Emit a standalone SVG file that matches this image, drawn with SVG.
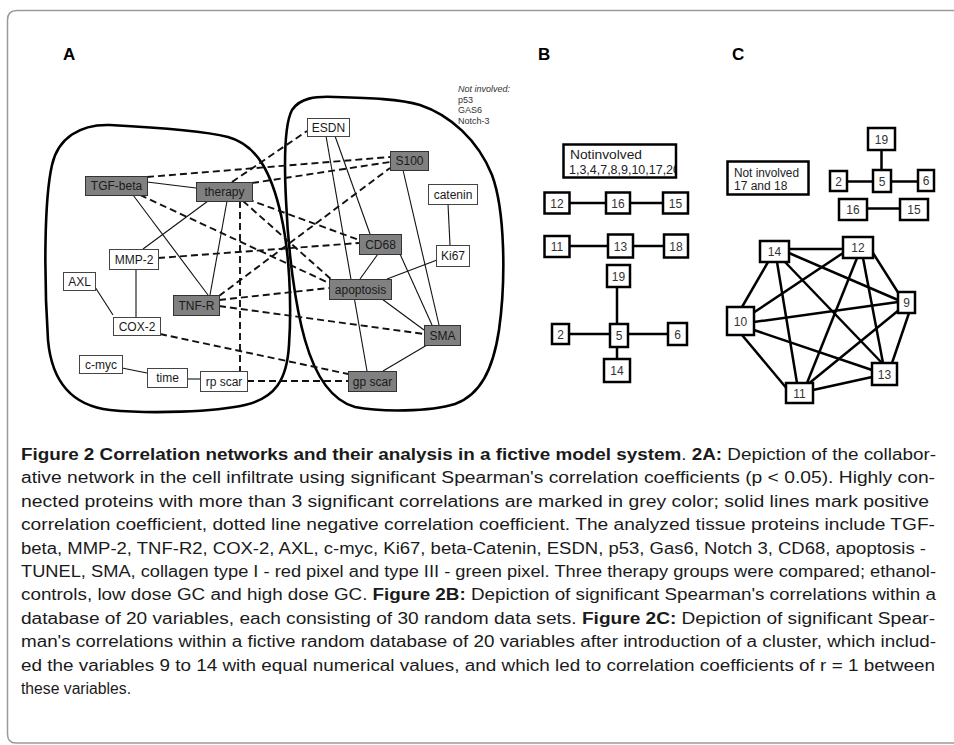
<svg xmlns="http://www.w3.org/2000/svg" width="954" height="745" viewBox="0 0 954 745">
<style>
  .frame{fill:none;stroke:#9a9a9a;stroke-width:1.5}
  .panel{font-family:"Liberation Sans",Arial,sans-serif;font-weight:bold;font-size:17px;fill:#000}
  .blob{fill:none;stroke:#000;stroke-width:2.6}
  .pos{stroke:#111;stroke-width:1.1;fill:none}
  .neg{stroke:#111;stroke-width:1.9;stroke-dasharray:7,4;fill:none}
  .g{fill:#808080;stroke:#333;stroke-width:1}
  .w{fill:#fff;stroke:#444;stroke-width:1}
  .lbl{font-family:"Liberation Sans",Arial,sans-serif;font-size:12px;fill:#1a1a1a;text-anchor:middle}
  .note{font-family:"Liberation Sans",Arial,sans-serif;font-size:9px;fill:#333}
  .bx{fill:#fff;stroke:#000;stroke-width:2.5}
  .be{stroke:#000;stroke-width:2.5;fill:none}
  .num{font-family:"Liberation Sans",Arial,sans-serif;font-size:12px;fill:#333;text-anchor:middle}
  .ni{font-family:"Liberation Sans",Arial,sans-serif;font-size:12px;fill:#222}
  .cap{font-family:"Liberation Sans",Arial,sans-serif;font-size:16px;fill:#1a1a1a}
  .b{font-weight:bold}
</style>
<defs>
  <clipPath id="clipB"><rect x="564.5" y="145.5" width="110.5" height="31"/></clipPath>
</defs>
<rect x="0" y="0" width="954" height="745" fill="#fff"/>
<path class="frame" d="M954,10.5 H17 Q7.5,10.5 7.5,20 V734 Q7.5,743 16,743 H954"/>

<text class="panel" x="63" y="60">A</text>
<text class="panel" x="538" y="60">B</text>
<text class="panel" x="732" y="60">C</text>

<!-- Panel A: clusters -->
<g id="clusters">
  <path class="blob" d="M48,340 C44,280 44,200 52,165 C58,138 80,124 110,125 C150,127 200,130 228,137 C258,145 272,175 281,215 C289,250 292,300 289,345 C287,380 275,398 245,405 C215,412 150,414 110,410 C75,406 52,385 48,340 Z"/>
  <path class="blob" d="M286,200 C284,160 284,125 292,110 C300,98 315,96 335,97 C370,98 400,99 420,105 C450,115 478,140 492,175 C505,210 506,280 499,330 C493,370 480,395 455,404 C430,412 380,412 355,407 C330,400 315,375 305,340 C295,305 288,250 286,200 Z"/>
</g>

<g id="not-involved-A">
  <text class="note" x="458" y="92" font-style="italic">Not involved:</text>
  <text class="note" x="458" y="103">p53</text>
  <text class="note" x="458" y="113">GAS6</text>
  <text class="note" x="458" y="124">Notch-3</text>
</g>

<g id="connectors">
  <!-- Panel A positive -->
  <line class="pos" x1="147" y1="182" x2="196" y2="188"/>
  <line class="pos" x1="133" y1="195" x2="208" y2="295"/>
  <line class="pos" x1="208" y1="201" x2="143" y2="249"/>
  <line class="pos" x1="227" y1="201" x2="210" y2="295"/>
  <line class="pos" x1="136" y1="269" x2="136" y2="317"/>
  <line class="pos" x1="95" y1="287" x2="113" y2="315"/>
  <line class="pos" x1="122" y1="368" x2="147" y2="373"/>
  <line class="pos" x1="187" y1="379" x2="200" y2="379"/>
  <line class="pos" x1="326" y1="136" x2="367" y2="371"/>
  <line class="pos" x1="335" y1="136" x2="370" y2="234"/>
  <line class="pos" x1="403" y1="170" x2="439" y2="325"/>
  <line class="pos" x1="400" y1="254" x2="432" y2="325"/>
  <line class="pos" x1="378" y1="254" x2="360" y2="279"/>
  <line class="pos" x1="437" y1="260" x2="387" y2="279"/>
  <line class="pos" x1="448" y1="204" x2="450" y2="245"/>
  <line class="pos" x1="382" y1="299" x2="424" y2="330"/>
  <line class="pos" x1="427" y1="345" x2="383" y2="371"/>
  <!-- Panel A negative -->
  <line class="neg" x1="147" y1="177" x2="390" y2="157"/>
  <line class="neg" x1="252" y1="183" x2="390" y2="162"/>
  <line class="neg" x1="232" y1="182" x2="307" y2="131"/>
  <line class="neg" x1="140" y1="195" x2="329" y2="283"/>
  <line class="neg" x1="247" y1="199" x2="359" y2="240"/>
  <line class="neg" x1="243" y1="201" x2="332" y2="280"/>
  <line class="neg" x1="240" y1="201" x2="240" y2="371"/>
  <line class="neg" x1="158" y1="258" x2="359" y2="243"/>
  <line class="neg" x1="219" y1="296" x2="390" y2="168"/>
  <line class="neg" x1="219" y1="300" x2="329" y2="288"/>
  <line class="neg" x1="219" y1="306" x2="424" y2="334"/>
  <line class="neg" x1="160" y1="334" x2="348" y2="374"/>
  <line class="neg" x1="247" y1="381" x2="348" y2="381"/>
  <!-- Panel B -->
  <line class="be" x1="569" y1="203" x2="606" y2="203"/>
  <line class="be" x1="630" y1="203" x2="663" y2="203"/>
  <line class="be" x1="569" y1="246" x2="608" y2="246"/>
  <line class="be" x1="633" y1="246" x2="664" y2="246"/>
  <line class="be" x1="617" y1="287" x2="617" y2="324"/>
  <line class="be" x1="569" y1="334" x2="610" y2="334"/>
  <line class="be" x1="628" y1="334" x2="668" y2="334"/>
  <line class="be" x1="617" y1="347" x2="617" y2="359"/>
  <!-- Panel C -->
  <line class="be" x1="881.5" y1="150" x2="881.5" y2="170"/>
  <line class="be" x1="847" y1="181.5" x2="873" y2="181.5"/>
  <line class="be" x1="891" y1="181.5" x2="918" y2="181.5"/>
  <line class="be" x1="867" y1="208.5" x2="900" y2="208.5"/>
  <line class="be" x1="789" y1="249" x2="843" y2="249"/>
  <line class="be" x1="768" y1="262" x2="742" y2="307"/>
  <line class="be" x1="777" y1="262" x2="797" y2="383"/>
  <line class="be" x1="785" y1="262" x2="882" y2="363"/>
  <line class="be" x1="789" y1="253" x2="898" y2="300"/>
  <line class="be" x1="843" y1="253" x2="753" y2="313"/>
  <line class="be" x1="857" y1="258" x2="807" y2="383"/>
  <line class="be" x1="863" y1="258" x2="883" y2="363"/>
  <line class="be" x1="873" y1="253" x2="899" y2="294"/>
  <line class="be" x1="754" y1="322" x2="898" y2="302"/>
  <line class="be" x1="754" y1="330" x2="872" y2="370"/>
  <line class="be" x1="742" y1="335" x2="788" y2="390"/>
  <line class="be" x1="899" y1="310" x2="807" y2="385"/>
  <line class="be" x1="909" y1="313" x2="892" y2="363"/>
  <line class="be" x1="813" y1="390" x2="872" y2="377"/>
</g>

<!-- Panel A nodes -->
<g id="n-tgfbeta"><rect class="g" x="85.5" y="176.5" width="62" height="19"/><text class="lbl" x="116.5" y="190">TGF-beta</text></g>
<g id="n-therapy"><rect class="g" x="196.5" y="182.5" width="56" height="19"/><text class="lbl" x="224.5" y="196">therapy</text></g>
<g id="n-mmp2"><rect class="w" x="109.5" y="249.5" width="49" height="20"/><text class="lbl" x="134" y="263.5">MMP-2</text></g>
<g id="n-axl"><rect class="w" x="63.5" y="272.5" width="32" height="18"/><text class="lbl" x="79.5" y="285.5">AXL</text></g>
<g id="n-tnfr"><rect class="g" x="173.5" y="295.5" width="46" height="20"/><text class="lbl" x="196.5" y="309.5">TNF-R</text></g>
<g id="n-cox2"><rect class="w" x="113.5" y="317.5" width="47" height="18"/><text class="lbl" x="137" y="330.5">COX-2</text></g>
<g id="n-cmyc"><rect class="w" x="79.5" y="355.5" width="43" height="18"/><text class="lbl" x="101" y="368.5">c-myc</text></g>
<g id="n-time"><rect class="w" x="147.5" y="368.5" width="40" height="19"/><text class="lbl" x="167.5" y="382">time</text></g>
<g id="n-rpscar"><rect class="w" x="200.5" y="371.5" width="47" height="20"/><text class="lbl" x="224" y="385.5">rp scar</text></g>
<g id="n-esdn"><rect class="w" x="307.5" y="118.5" width="42" height="18"/><text class="lbl" x="328.5" y="131.5">ESDN</text></g>
<g id="n-s100"><rect class="g" x="390.5" y="151.5" width="38" height="19"/><text class="lbl" x="409.5" y="165">S100</text></g>
<g id="n-catenin"><rect class="w" x="428.5" y="184.5" width="49" height="20"/><text class="lbl" x="453" y="198.5">catenin</text></g>
<g id="n-cd68"><rect class="g" x="359.5" y="234.5" width="42" height="20"/><text class="lbl" x="380.5" y="248.5">CD68</text></g>
<g id="n-ki67"><rect class="w" x="436.5" y="245.5" width="33" height="21"/><text class="lbl" x="453" y="260">Ki67</text></g>
<g id="n-apoptosis"><rect class="g" x="329.5" y="279.5" width="62" height="20"/><text class="lbl" x="360.5" y="293.5">apoptosis</text></g>
<g id="n-sma"><rect class="g" x="424.5" y="325.5" width="36" height="20"/><text class="lbl" x="442.5" y="339.5">SMA</text></g>
<g id="n-gpscar"><rect class="g" x="348.5" y="371.5" width="48" height="20"/><text class="lbl" x="372.5" y="385.5">gp scar</text></g>

<!-- Panel B nodes -->
<g id="b-notinvolved">
  <g clip-path="url(#clipB)">
    <text class="ni" x="570" y="159" textLength="72" lengthAdjust="spacingAndGlyphs">Notinvolved</text>
    <text class="ni" x="569" y="174" textLength="111" lengthAdjust="spacingAndGlyphs">1,3,4,7,8,9,10,17,20</text>
  </g>
  <rect x="563.5" y="144.5" width="112.5" height="33" fill="none" stroke="#000" stroke-width="2.5"/>
</g>
<g id="b-12"><rect class="bx" x="544.5" y="192.5" width="25" height="21"/><text class="num" x="557" y="207.5">12</text></g>
<g id="b-16"><rect class="bx" x="606" y="192.5" width="24" height="21"/><text class="num" x="618" y="207.5">16</text></g>
<g id="b-15"><rect class="bx" x="663" y="192.5" width="25" height="21"/><text class="num" x="675.5" y="207.5">15</text></g>
<g id="b-11"><rect class="bx" x="544.5" y="236" width="25" height="21"/><text class="num" x="557" y="251">11</text></g>
<g id="b-13"><rect class="bx" x="608" y="234.5" width="25" height="23"/><text class="num" x="620.5" y="250.5">13</text></g>
<g id="b-18"><rect class="bx" x="664" y="234.5" width="24" height="23"/><text class="num" x="676" y="250.5">18</text></g>
<g id="b-19"><rect class="bx" x="607" y="265" width="23" height="22"/><text class="num" x="618.5" y="280.5">19</text></g>
<g id="b-2"><rect class="bx" x="552" y="324" width="17" height="20"/><text class="num" x="560.5" y="338.5">2</text></g>
<g id="b-5"><rect class="bx" x="610" y="324" width="18" height="23"/><text class="num" x="619" y="340">5</text></g>
<g id="b-6"><rect class="bx" x="668" y="323" width="19" height="22"/><text class="num" x="677.5" y="338.5">6</text></g>
<g id="b-14"><rect class="bx" x="604" y="359" width="26" height="23"/><text class="num" x="617" y="375">14</text></g>

<!-- Panel C nodes -->
<g id="c-notinvolved">
  <rect class="bx" x="727.5" y="161.5" width="81" height="33"/>
  <text class="ni" x="734" y="177" textLength="65" lengthAdjust="spacingAndGlyphs">Not involved</text>
  <text class="ni" x="734" y="190">17 and 18</text>
</g>
<g id="c-19"><rect class="bx" x="868" y="128" width="27" height="22"/><text class="num" x="881.5" y="143.5">19</text></g>
<g id="c-2"><rect class="bx" x="830" y="171" width="17" height="20"/><text class="num" x="838.5" y="185.5">2</text></g>
<g id="c-5"><rect class="bx" x="873" y="170" width="18" height="22"/><text class="num" x="882" y="185.5">5</text></g>
<g id="c-6"><rect class="bx" x="918" y="170" width="16" height="21"/><text class="num" x="926" y="185">6</text></g>
<g id="c-16"><rect class="bx" x="839" y="199" width="28" height="21"/><text class="num" x="853" y="214">16</text></g>
<g id="c-15"><rect class="bx" x="900" y="199" width="28" height="21"/><text class="num" x="914" y="214">15</text></g>
<g id="c-14"><rect class="bx" x="760" y="241" width="29" height="21"/><text class="num" x="774.5" y="256">14</text></g>
<g id="c-12"><rect class="bx" x="843" y="237" width="30" height="21"/><text class="num" x="858" y="252">12</text></g>
<g id="c-9"><rect class="bx" x="898" y="292" width="17" height="21"/><text class="num" x="906.5" y="307">9</text></g>
<g id="c-10"><rect class="bx" x="727" y="307" width="27" height="28"/><text class="num" x="740.5" y="325.5">10</text></g>
<g id="c-13"><rect class="bx" x="872" y="363" width="25" height="22"/><text class="num" x="884.5" y="378.5">13</text></g>
<g id="c-11"><rect class="bx" x="786" y="383" width="27" height="20"/><text class="num" x="799.5" y="397.5">11</text></g>

<!-- Caption -->
<g id="caption">
  <text class="cap" x="21" y="460" textLength="915" lengthAdjust="spacingAndGlyphs"><tspan class="b">Figure 2 Correlation networks and their analysis in a fictive model system</tspan>. <tspan class="b">2A:</tspan> Depiction of the collabor-</text>
  <text class="cap" x="21" y="483.4" textLength="914" lengthAdjust="spacingAndGlyphs">ative network in the cell infiltrate using significant Spearman's correlation coefficients (p &lt; 0.05). Highly con-</text>
  <text class="cap" x="21" y="506.8" textLength="908" lengthAdjust="spacingAndGlyphs">nected proteins with more than 3 significant correlations are marked in grey color; solid lines mark positive</text>
  <text class="cap" x="21" y="530.2" textLength="914" lengthAdjust="spacingAndGlyphs">correlation coefficient, dotted line negative correlation coefficient. The analyzed tissue proteins include TGF-</text>
  <text class="cap" x="21" y="553.6" textLength="905" lengthAdjust="spacingAndGlyphs">beta, MMP-2, TNF-R2, COX-2, AXL, c-myc, Ki67, beta-Catenin, ESDN, p53, Gas6, Notch 3, CD68, apoptosis -</text>
  <text class="cap" x="21" y="577" textLength="915" lengthAdjust="spacingAndGlyphs">TUNEL, SMA, collagen type I - red pixel and type III - green pixel. Three therapy groups were compared; ethanol-</text>
  <text class="cap" x="21" y="600.4" textLength="915" lengthAdjust="spacingAndGlyphs">controls, low dose GC and high dose GC. <tspan class="b">Figure 2B:</tspan> Depiction of significant Spearman's correlations within a</text>
  <text class="cap" x="21" y="623.8" textLength="914" lengthAdjust="spacingAndGlyphs">database of 20 variables, each consisting of 30 random data sets. <tspan class="b">Figure 2C:</tspan> Depiction of significant Spear-</text>
  <text class="cap" x="21" y="647.2" textLength="915" lengthAdjust="spacingAndGlyphs">man's correlations within a fictive random database of 20 variables after introduction of a cluster, which includ-</text>
  <text class="cap" x="21" y="670.6" textLength="914" lengthAdjust="spacingAndGlyphs">ed the variables 9 to 14 with equal numerical values, and which led to correlation coefficients of r = 1 between</text>
  <text class="cap" x="21" y="694" textLength="110" lengthAdjust="spacingAndGlyphs">these variables.</text>
</g>
</svg>
